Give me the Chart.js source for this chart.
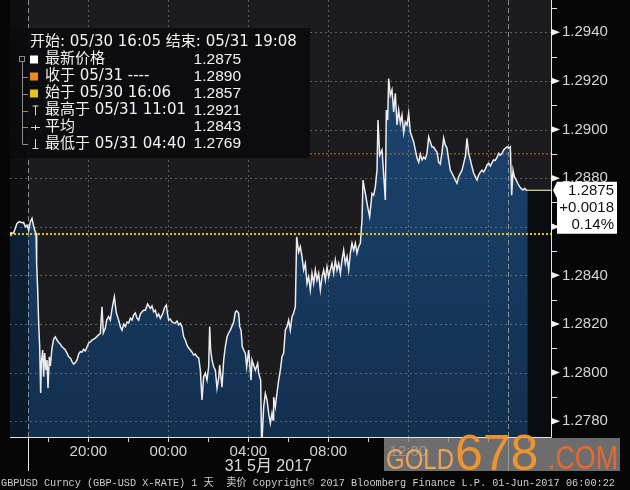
<!DOCTYPE html>
<html><head><meta charset="utf-8">
<script src="https://cdn.jsdelivr.net/npm/chart.js@4.4.1/dist/chart.umd.min.js"></script>
<style>html,body{margin:0;padding:0;background:#060606;}canvas{display:block}</style>
</head><body>
<canvas id="c" width="630" height="490"></canvas>
<script>
// ---- data (minutes after 05/30 16:05) ----
const START_LABEL = '05/30 16:05';
const END_MINUTE = 1623; // 05/31 19:08
const minutes = [0,11,21,28,36,41,46,51,56,61,66,69,74,78,80,83,86,89,92,94,98,101,104,108,111,114,118,121,126,131,136,141,146,151,156,161,166,171,176,181,186,191,196,201,206,211,216,221,226,231,236,241,246,256,265,271,276,280,286,290,296,301,306,313,319,326,331,336,341,346,351,356,361,366,371,376,381,386,391,396,401,406,413,421,426,431,436,441,446,451,459,463,469,473,476,481,486,491,496,501,506,511,516,521,526,531,536,541,546,551,556,561,566,571,576,581,586,591,596,599,602,606,611,616,621,626,629,636,641,646,651,656,661,666,671,676,680,686,689,693,697,701,706,710,716,723,726,729,736,743,746,749,752,755,761,766,771,776,781,786,789,791,796,801,806,811,816,821,826,831,836,841,846,851,856,860,866,871,876,881,886,891,896,901,906,911,916,921,926,931,936,941,946,951,956,961,966,971,976,981,986,991,996,1001,1006,1011,1016,1021,1026,1031,1036,1041,1046,1051,1056,1059,1063,1066,1073,1079,1086,1091,1096,1101,1104,1109,1116,1121,1126,1129,1133,1136,1141,1146,1151,1156,1161,1166,1171,1176,1181,1186,1191,1196,1201,1206,1211,1216,1221,1226,1231,1236,1241,1246,1251,1256,1261,1266,1271,1276,1281,1286,1291,1296,1301,1306,1311,1316,1321,1326,1331,1336,1341,1346,1351,1356,1361,1366,1371,1376,1381,1386,1391,1396,1401,1406,1411,1416,1421,1426,1431,1436,1441,1446,1451,1456,1461,1466,1471,1476,1481,1486,1491,1496,1501,1505,1509,1513,1519,1523,1529,1533,1539,1544,1549,1553];
const prices = [1.2857,1.28575,1.28614,1.28621,1.28617,1.28618,1.28600,1.28607,1.28586,1.28621,1.28635,1.28614,1.28586,1.28573,1.28449,1.28340,1.28204,1.28106,1.27916,1.28039,1.28093,1.27983,1.28080,1.28010,1.28052,1.27936,1.28065,1.28027,1.28101,1.28138,1.28147,1.28134,1.28124,1.28117,1.28106,1.28100,1.28093,1.28080,1.28065,1.28060,1.28045,1.28035,1.28041,1.28052,1.28076,1.28086,1.28084,1.28096,1.28089,1.28105,1.28122,1.28126,1.28134,1.28142,1.28154,1.28161,1.28271,1.28163,1.28183,1.28216,1.28230,1.28216,1.28261,1.28312,1.28245,1.28216,1.28189,1.28175,1.28200,1.28189,1.28208,1.28204,1.28224,1.28216,1.28237,1.28245,1.28224,1.28216,1.28241,1.28250,1.28257,1.28257,1.28282,1.28264,1.28274,1.28250,1.28257,1.28230,1.28241,1.28223,1.28245,1.28266,1.28278,1.28237,1.28216,1.28220,1.28209,1.28204,1.28204,1.28212,1.28196,1.28203,1.28189,1.28147,1.28134,1.28113,1.28101,1.28093,1.28084,1.28072,1.28076,1.28065,1.28060,1.28010,1.27887,1.27983,1.27998,1.27969,1.28024,1.28189,1.28093,1.28052,1.28024,1.28010,1.27936,1.27977,1.28031,1.27940,1.28052,1.28106,1.28147,1.28163,1.28175,1.28191,1.28208,1.28249,1.28254,1.28244,1.28189,1.28175,1.28106,1.28093,1.28080,1.28024,1.28093,1.27969,1.28052,1.28038,1.28010,1.28038,1.27998,1.27983,1.27969,1.2769,1.27859,1.27914,1.27887,1.27832,1.27792,1.27833,1.27805,1.27899,1.27859,1.27916,1.27969,1.28010,1.28065,1.28080,1.28175,1.28189,1.28216,1.28175,1.28230,1.28245,1.28271,1.28559,1.28497,1.28518,1.28477,1.28422,1.28449,1.28367,1.28394,1.28340,1.28408,1.28367,1.28422,1.28381,1.28408,1.28340,1.28394,1.28422,1.28381,1.28435,1.28394,1.28422,1.28449,1.28408,1.28463,1.28422,1.28449,1.28408,1.28463,1.28504,1.28449,1.28477,1.28422,1.28491,1.28532,1.28504,1.28532,1.28491,1.28518,1.28532,1.28628,1.28792,1.28759,1.28737,1.28682,1.28641,1.28737,1.28730,1.28765,1.28833,1.29039,1.28895,1.28916,1.28813,1.28710,1.29080,1.29039,1.2921,1.29142,1.29163,1.29072,1.29149,1.29019,1.29080,1.29027,1.29060,1.28986,1.29031,1.29019,1.29067,1.28990,1.28969,1.28949,1.28916,1.28883,1.28866,1.28899,1.28875,1.28887,1.28879,1.28903,1.28969,1.28949,1.28928,1.28928,1.28916,1.28907,1.28866,1.28858,1.28907,1.28965,1.28936,1.28924,1.28875,1.28833,1.28820,1.28806,1.28792,1.28779,1.28806,1.28820,1.28833,1.28861,1.28888,1.28964,1.28902,1.28875,1.28847,1.28820,1.28806,1.28792,1.28813,1.28825,1.28833,1.28825,1.28837,1.28854,1.28861,1.28850,1.28864,1.28875,1.28873,1.28885,1.28902,1.28895,1.28902,1.28916,1.28923,1.28929,1.28923,1.28929,1.28730,1.28833,1.28806,1.28792,1.28779,1.28765,1.28758,1.28751,1.28758,1.2875,1.2875];
const openPrice = 1.2857;
const closePrice = 1.2890;
const lastPrice = 1.2875;
const xTickMinutes = [235, 475, 715, 955, 1195];
const xTickLabels = ['20:00', '00:00', '04:00', '08:00', '12:00'];
const xGridMinutes = [235, 475, 715, 955, 1195, 1435];
const xMinorMinutes = [115, 355, 595, 835, 1075, 1315, 1555];
const daySepMinutes = [55, 1495];
const dayLabel = '31 5月 2017';
const yMajor = [1.2780, 1.2800, 1.2820, 1.2840, 1.2860, 1.2880, 1.2900, 1.2920, 1.2940];
const yMinor = [1.2790, 1.2810, 1.2830, 1.2850, 1.2870, 1.2890, 1.2910, 1.2930, 1.2950];
const Y_MIN = 1.27735, Y_MAX = 1.29533;
const legendHeader = '开始: 05/30 16:05 结束: 05/31 19:08';
const legendLabels = ['最新价格', '收于 05/31 ----', '始于 05/30 16:06', '最高于 05/31 11:01', '平均', '最低于 05/31 04:40'];
const legendValues = ['1.2875', '1.2890', '1.2857', '1.2921', '1.2843', '1.2769'];
const priceBoxLines = ['1.2875', '+0.0018', '0.14%'];
const footerText = 'GBPUSD Curncy (GBP-USD X-RATE) 1 天  卖价 Copyright© 2017 Bloomberg Finance L.P. 01-Jun-2017 06:00:22';

const LATIN = '"Liberation Sans", "Noto Sans CJK SC", sans-serif';
const LEG = '"DejaVu Sans", "Noto Sans CJK SC", sans-serif';

const series = minutes.map((m, i) => ({x: m, y: prices[i]}));
const lastMinute = minutes[minutes.length - 1];

const deco = {
  id: 'deco',
  beforeDraw(chart) {
    const {ctx, chartArea: a} = chart;
    ctx.save();
    ctx.fillStyle = '#060606'; ctx.fillRect(0, 0, chart.width, chart.height);
    ctx.fillStyle = '#1c1b1e'; ctx.fillRect(a.left, a.top, a.right - a.left, a.bottom - a.top);
    ctx.restore();
  },
  afterDatasetDraw(chart, args) {
    if (args.index !== 1) return;
    const {ctx, chartArea: a, scales: {x, y}} = chart;
    ctx.save();
    ctx.beginPath(); ctx.rect(a.left, a.top, a.right - a.left, a.bottom - a.top); ctx.clip();
    const xs = x.getPixelForValue(daySepMinutes[0]);
    ctx.fillStyle = 'rgba(0,0,0,0.45)';
    ctx.fillRect(a.left, a.top, xs - a.left, a.bottom - a.top);
    ctx.lineWidth = 1;
    ctx.strokeStyle = 'rgba(140,140,140,0.6)';
    ctx.setLineDash([2, 3]);
    yMajor.forEach(v => { const py = Math.round(y.getPixelForValue(v)) + 0.5; ctx.beginPath(); ctx.moveTo(a.left, py); ctx.lineTo(a.right, py); ctx.stroke(); });
    xGridMinutes.forEach(m => { const px = Math.round(x.getPixelForValue(m)) + 0.5; ctx.beginPath(); ctx.moveTo(px, a.top); ctx.lineTo(px, a.bottom); ctx.stroke(); });
    ctx.setLineDash([5, 3]);
    ctx.strokeStyle = 'rgba(175,175,175,0.75)';
    daySepMinutes.forEach(m => { const px = Math.round(x.getPixelForValue(m)) + 0.5; ctx.beginPath(); ctx.moveTo(px, a.top); ctx.lineTo(px, a.bottom); ctx.stroke(); });
    ctx.restore();
  },
  afterDraw(chart) {
    const {ctx, chartArea: a, scales: {x, y}} = chart;
    ctx.save();
    // axis lines
    ctx.strokeStyle = '#e4e4e4'; ctx.lineWidth = 1;
    ctx.beginPath(); ctx.moveTo(a.right + 0.5, 0); ctx.lineTo(a.right + 0.5, a.bottom + 0.5); ctx.lineTo(a.left, a.bottom + 0.5); ctx.stroke();
    // right minor ticks
    yMinor.forEach(v => { const py = Math.round(y.getPixelForValue(v)) + 0.5; ctx.beginPath(); ctx.moveTo(a.right, py); ctx.lineTo(a.right + 6, py); ctx.stroke(); });
    // major arrows
    ctx.fillStyle = '#f2f2f2';
    yMajor.forEach(v => { const py = y.getPixelForValue(v); ctx.beginPath(); ctx.moveTo(a.right, py - 3.5); ctx.lineTo(a.right + 9, py); ctx.lineTo(a.right, py + 3.5); ctx.closePath(); ctx.fill(); });
    // bottom minor ticks
    ctx.strokeStyle = '#cfcfcf';
    xMinorMinutes.concat(xGridMinutes).forEach(m => { const px = Math.round(x.getPixelForValue(m)) + 0.5; ctx.beginPath(); ctx.moveTo(px, a.bottom + 1); ctx.lineTo(px, a.bottom + 5); ctx.stroke(); });
    // day separators on axis
    ctx.strokeStyle = '#e8e8e8';
    daySepMinutes.forEach(m => { const px = Math.round(x.getPixelForValue(m)) + 0.5; ctx.beginPath(); ctx.moveTo(px, a.bottom); ctx.lineTo(px, a.bottom + 34); ctx.stroke(); });
    // day label
    ctx.fillStyle = '#dcdcdc'; ctx.font = '16px ' + LATIN; ctx.textAlign = 'center'; ctx.textBaseline = 'middle';
    const cx = (x.getPixelForValue(daySepMinutes[0]) + x.getPixelForValue(daySepMinutes[1])) / 2;
    ctx.fillText(dayLabel, cx, 467);
    // footer
    ctx.textAlign = 'left'; ctx.fillStyle = '#cfcfcf'; ctx.font = '11px "Liberation Mono", "Noto Sans CJK SC", monospace';
    ctx.fillText(footerText, 1, 483, 614);

    // legend box
    ctx.fillStyle = 'rgba(11,11,13,0.93)';
    ctx.fillRect(10, 28, 300, 130);
    ctx.font = '15px ' + LEG; ctx.fillStyle = '#f2f2f2'; ctx.textAlign = 'left'; ctx.textBaseline = 'middle';
    ctx.fillText(legendHeader, 30, 42);
    const rowsY = [59.5, 76.5, 93.5, 110.5, 127, 144];
    const sq = ['#ffffff', '#e8891c', '#e6c21e'];
    legendLabels.forEach((t, i) => {
      const ry = rowsY[i];
      ctx.fillStyle = '#f2f2f2'; ctx.textAlign = 'left';
      ctx.font = '15px ' + LEG;
      ctx.fillText(t, 45, ry);
      ctx.textAlign = 'right';
      ctx.font = '15.5px ' + LATIN;
      ctx.fillText(legendValues[i], 241, ry);
      if (i < 3) { ctx.fillStyle = sq[i]; ctx.fillRect(30, ry - 4, 8, 8); }
    });
    ctx.strokeStyle = '#d8d8d8'; ctx.lineWidth = 1;
    // high icon
    let ry = rowsY[3];
    ctx.beginPath(); ctx.moveTo(35.5, ry - 5); ctx.lineTo(35.5, ry + 5); ctx.moveTo(32.5, ry - 4.5); ctx.lineTo(38.5, ry - 4.5); ctx.stroke();
    ry = rowsY[4];
    ctx.beginPath(); ctx.moveTo(31, ry + 0.5); ctx.lineTo(40, ry + 0.5); ctx.moveTo(35.5, ry - 2); ctx.lineTo(35.5, ry + 3); ctx.stroke();
    ry = rowsY[5];
    ctx.beginPath(); ctx.moveTo(35.5, ry - 5); ctx.lineTo(35.5, ry + 5); ctx.moveTo(32.5, ry + 4.5); ctx.lineTo(38.5, ry + 4.5); ctx.stroke();
    // tree
    ctx.strokeStyle = '#8c8c8c';
    ctx.strokeRect(19.5, 56.5, 5, 5);
    ctx.beginPath(); ctx.moveTo(22.5, 61.5); ctx.lineTo(22.5, rowsY[5] + 0.5);
    rowsY.slice(1).forEach(r => { ctx.moveTo(22.5, Math.round(r) + 0.5); ctx.lineTo(28, Math.round(r) + 0.5); });
    ctx.stroke();

    // price box
    const py = y.getPixelForValue(lastPrice);
    ctx.fillStyle = '#ffffff';
    ctx.beginPath();
    ctx.moveTo(557, py - 8.5); ctx.lineTo(617, py - 8.5); ctx.lineTo(617, py + 43.5); ctx.lineTo(557, py + 43.5);
    ctx.lineTo(557, py + 8); ctx.lineTo(553, py); ctx.closePath(); ctx.fill();
    ctx.fillStyle = '#111'; ctx.font = '15px ' + LATIN; ctx.textAlign = 'right'; ctx.textBaseline = 'middle';
    priceBoxLines.forEach((t, i) => ctx.fillText(t, 614, py + 0.5 + i * 17));

    // watermark
    ctx.fillStyle = 'rgba(135,135,135,0.8)';
    ctx.fillRect(384, 438, 236, 33);
    ctx.textAlign = 'left'; ctx.textBaseline = 'alphabetic';
    ctx.fillStyle = 'rgba(246,170,90,0.9)'; ctx.font = '29px ' + LATIN;
    ctx.fillText('GOLD', 386, 469, 68);
    ctx.fillStyle = 'rgba(245,150,45,0.95)'; ctx.font = '50px ' + LATIN;
    ctx.fillText('678', 455, 470, 92);
    ctx.fillStyle = 'rgba(238,105,45,0.95)'; ctx.font = '34px ' + LATIN;
    ctx.fillText('.COM', 548, 469, 70);
    ctx.restore();
  }
};

new Chart(document.getElementById('c'), {
  type: 'line',
  data: {
    datasets: [
      {data: series, borderColor: '#ececec', borderWidth: 1.5, pointRadius: 0, fill: false, tension: 0, order: 1},
      {data: series, borderWidth: 0, borderColor: 'rgba(0,0,0,0)', pointRadius: 0, fill: 'start', tension: 0, order: 5,
        backgroundColor: (c) => {
          const a = c.chart.chartArea; if (!a) return '#173a60';
          const g = c.chart.ctx.createLinearGradient(0, a.top, 0, a.bottom);
          g.addColorStop(0, '#1f4a79'); g.addColorStop(1, '#122f4e');
          return g;
        }},
      {data: [{x: lastMinute, y: lastPrice}, {x: END_MINUTE, y: lastPrice}], borderColor: '#d9cb98', borderWidth: 1.3, pointRadius: 0, fill: 'start', backgroundColor: '#0b0c10', order: 4},
      {data: [{x: 0, y: openPrice}, {x: END_MINUTE, y: openPrice}], borderColor: '#e3c21c', borderWidth: 2, borderDash: [2, 2], fill: false, order: 3,
        pointRadius: (c) => c.dataIndex === 0 ? 3 : 0, pointStyle: 'rect', pointBackgroundColor: '#e3c21c', pointBorderWidth: 0},
      {data: [{x: 0, y: closePrice}, {x: END_MINUTE, y: closePrice}], borderColor: '#b8741e', borderWidth: 1, borderDash: [2, 2], pointRadius: 0, fill: false, order: 3}
    ]
  },
  options: {
    responsive: false, animation: false, devicePixelRatio: 1,
    layout: {padding: {left: 10, top: 0, right: 0, bottom: 0}, autoPadding: false},
    plugins: {legend: {display: false}, tooltip: {enabled: false}},
    scales: {
      x: {type: 'linear', min: 0, max: END_MINUTE, position: 'bottom',
        grid: {display: false, drawTicks: false}, border: {display: false},
        afterBuildTicks: s => { s.ticks = xTickMinutes.map(v => ({value: v})); },
        afterFit: s => { s.height = 53; s.paddingLeft = 0; s.paddingRight = 0; },
        ticks: {autoSkip: false, maxRotation: 0, padding: 6, color: '#d6d6d6', font: {family: LATIN, size: 15},
          callback: (v, i) => xTickLabels[i]}},
      y: {type: 'linear', position: 'right', min: Y_MIN, max: Y_MAX,
        grid: {display: false, drawTicks: false}, border: {display: false},
        afterBuildTicks: s => { s.ticks = yMajor.map(v => ({value: v})); },
        afterFit: s => { s.width = 79; s.paddingTop = 0; s.paddingBottom = 0; },
        ticks: {autoSkip: false, padding: 11, color: '#d6d6d6', font: {family: LATIN, size: 15},
          callback: v => v.toFixed(4)}}
    }
  },
  plugins: [deco]
});
</script>
</body></html>
